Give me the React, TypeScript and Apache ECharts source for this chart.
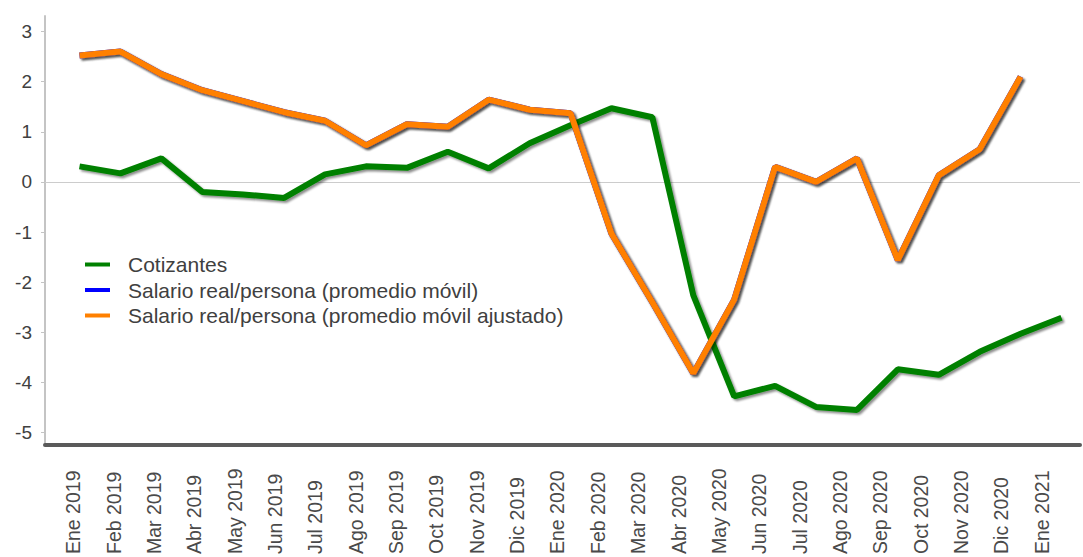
import React, { useEffect, useRef } from "react";
import * as echarts from "echarts";

const categories = [
  "Ene 2019", "Feb 2019", "Mar 2019", "Abr 2019", "May 2019", "Jun 2019",
  "Jul 2019", "Ago 2019", "Sep 2019", "Oct 2019", "Nov 2019", "Dic 2019",
  "Ene 2020", "Feb 2020", "Mar 2020", "Abr 2020", "May 2020", "Jun 2020",
  "Jul 2020", "Ago 2020", "Sep 2020", "Oct 2020", "Nov 2020", "Dic 2020",
  "Ene 2021",
];

const cotizantes = [
  0.31, 0.17, 0.47, -0.2, -0.25, -0.32, 0.15, 0.31, 0.28, 0.6, 0.27, 0.77,
  1.13, 1.47, 1.29, -2.26, -4.28, -4.07, -4.49, -4.55, -3.74, -3.85, -3.39,
  -3.03, -2.71,
];

const salarioMovil = [
  2.52, 2.6, 2.15, 1.83, 1.61, 1.39, 1.22, 0.73, 1.15, 1.1, 1.64, 1.44,
  1.37, -1.03, -2.4, -3.82, -2.35, 0.3, 0.0, 0.47, -1.56, 0.13, 0.65, 2.1,
  null,
];

const salarioMovilAjustado = [
  2.52, 2.6, 2.15, 1.83, 1.61, 1.39, 1.22, 0.73, 1.15, 1.1, 1.64, 1.44,
  1.37, -1.03, -2.4, -3.82, -2.35, 0.3, 0.0, 0.47, -1.56, 0.13, 0.65, 2.1,
  null,
];

const yTicks = [-5, -4, -3, -2, -1, 0, 1, 2, 3];

const seriesNames = [
  "Cotizantes",
  "Salario real/persona (promedio móvil)",
  "Salario real/persona (promedio móvil ajustado)",
];

const FONT = "'Liberation Sans', Arial, sans-serif";

export default function App() {
  const ref = useRef<HTMLDivElement>(null);

  useEffect(() => {
    if (!ref.current) return;
    const chart = echarts.init(ref.current, null, { renderer: "svg" });
    const toPairs = (arr: (number | null)[]) =>
      arr.map((v, i) => [i, v === null ? null : v]);
    const idx = categories.map((_, i) => i);
    const shadow = {
      shadowColor: "rgba(0,0,0,0.45)",
      shadowBlur: 2,
      shadowOffsetX: 2,
      shadowOffsetY: 2,
    };
    const mkLine = (name: string, data: (number | null)[], color: string, extra: any = {}) => ({
      name,
      type: "line",
      data: toPairs(data),
      xAxisIndex: 0,
      symbol: "none",
      color,
      itemStyle: { color },
      lineStyle: { width: 6, color, ...shadow },
      connectNulls: false,
      ...extra,
    });

    chart.setOption({
      animation: false,
      backgroundColor: "#ffffff",
      textStyle: { fontFamily: FONT },
      grid: { left: 45, right: 3, top: 16, bottom: 112, containLabel: false },
      legend: {
        orient: "vertical",
        left: 85,
        top: 254,
        padding: 0,
        icon: "rect",
        itemWidth: 25,
        itemHeight: 4,
        itemGap: 4.5,
        data: seriesNames,
        textStyle: {
          fontFamily: FONT,
          fontSize: 21,
          lineHeight: 20,
          color: "#404040",
          padding: [0, 0, 0, 13],
        },
      },
      xAxis: [
        {
          type: "value",
          min: -0.843,
          max: 24.452,
          axisLine: { show: true, onZero: false, lineStyle: { color: "#5a5a5a", width: 4 } },
          axisTick: { show: false },
          axisLabel: { show: false },
          splitLine: { show: false },
        },
        {
          type: "value",
          position: "bottom",
          min: -0.701,
          max: 24.95,
          axisLine: { show: false, onZero: false },
          axisTick: { show: false },
          splitLine: { show: false },
          axisLabel: {
            show: true,
            customValues: idx,
            formatter: (v: number) => categories[Math.round(v)] ?? "",
            rotate: 90,
            align: "left",
            verticalAlign: "middle",
            margin: 109,
            fontSize: 19.5,
            fontWeight: "normal",
            fontFamily: FONT,
            color: "#4a4a4a",
            hideOverlap: false,
          },
        },
      ],
      yAxis: {
        type: "value",
        min: -5.25,
        max: 3.31,
        axisLine: { show: true, onZero: false, lineStyle: { color: "#c4c4c4", width: 2 } },
        axisTick: {
          show: true,
          customValues: yTicks,
          length: 4,
          lineStyle: { color: "#c4c4c4", width: 1 },
        },
        axisLabel: {
          customValues: yTicks,
          fontSize: 19,
          fontFamily: FONT,
          color: "#404040",
          margin: 13,
        },
        splitLine: { show: false },
      },
      series: [
        mkLine(seriesNames[0], cotizantes, "#008000", {
          z: 3,
          markLine: {
            silent: true,
            symbol: "none",
            label: { show: false },
            lineStyle: { color: "#cccccc", width: 1, type: "solid", shadowBlur: 0, shadowOffsetX: 0, shadowOffsetY: 0 },
            data: [{ yAxis: 0 }],
            z: 1,
          },
        }),
        mkLine(seriesNames[1], salarioMovil, "#0000ff", { z: 2 }),
        mkLine(seriesNames[2], salarioMovilAjustado, "#ff8000", { z: 4 }),
      ],
    });
    return () => chart.dispose();
  }, []);

  return (
    <div
      ref={ref}
      style={{ position: "fixed", left: 0, top: 0, width: 1083, height: 557, background: "#fff" }}
    />
  );
}
